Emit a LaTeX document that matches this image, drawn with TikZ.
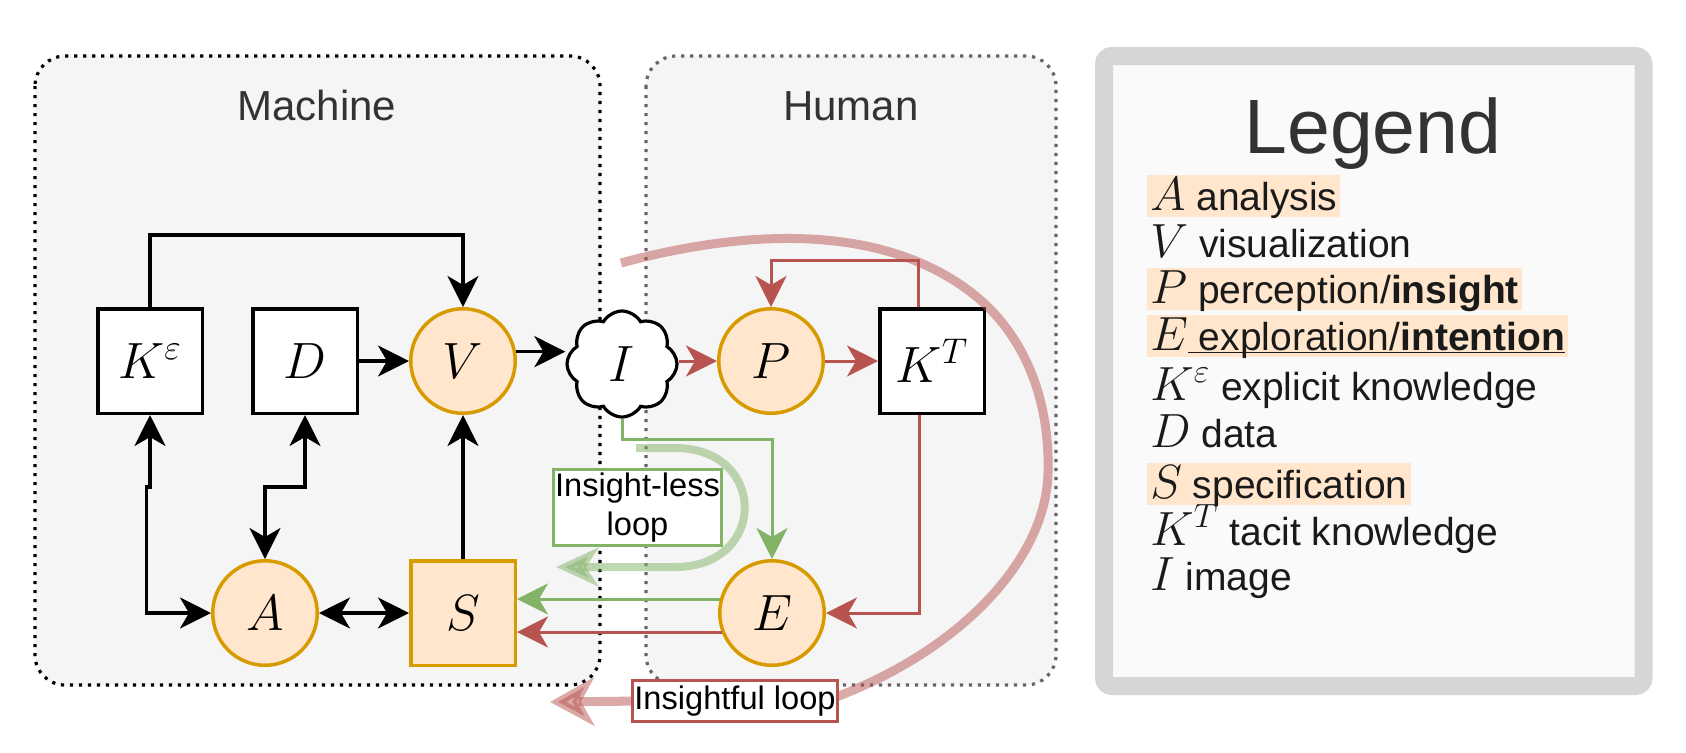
\IfFileExists{fix-cm.sty}{\RequirePackage{fix-cm}}{}
\documentclass[tikz,border=0pt]{standalone}
\usepackage{fontspec}
\setmainfont{Liberation Sans}
\usetikzlibrary{arrows.meta,shapes.symbols,calc}
\definecolor{orfill}{HTML}{FFE6CC}
\definecolor{orline}{HTML}{D79B00}
\definecolor{greenline}{HTML}{82B366}
\definecolor{redline}{HTML}{B85450}
\definecolor{boxfill}{HTML}{F5F5F5}
\definecolor{humanline}{HTML}{666666}
\definecolor{titletext}{HTML}{333333}
\definecolor{legtext}{HTML}{1A1A1A}
\definecolor{legline}{HTML}{D6D6D6}
\definecolor{legfill}{HTML}{FAFAFA}
\newcommand\mynodefont{\fontsize{25.5}{30}\selectfont}
\newcommand\mylegfont{\fontsize{19.5}{23}\selectfont}
\newcommand\mylm[1]{{\fontsize{24}{28}\selectfont$#1$}}
\begin{document}
\begin{tikzpicture}[x=0.5pt,y=-0.5pt,
  region/.style={line width=1.6pt, dash pattern=on 1.6pt off 2.9pt, rounded corners=15pt, fill=boxfill},
  sqbox/.style={draw, line width=1.75pt, fill=white, minimum size=52.25pt, inner sep=0pt, font=\mynodefont},
  circ/.style={circle, draw=orline, fill=orfill, line width=1.75pt, minimum size=52.25pt, inner sep=0pt, font=\mynodefont},
  tipb/.tip={Stealth[length=15.5pt,width=15.5pt,inset=4.5pt]},
  arr/.style={line width=1.6pt, -tipb},
  darr/.style={line width=1.6pt, tipb-tipb},
  rarr/.style={line width=1.5pt, draw=redline, -tipb},
  garr/.style={line width=1.5pt, draw=greenline, -tipb},
  heading/.style={anchor=base, text=titletext},
  leg/.style={anchor=base west, inner xsep=1.5pt, inner ysep=0pt, text height=17.5pt, text depth=3.5pt, font=\mylegfont, text=legtext},
  hl/.style={leg, fill=orfill},
  looplabel/.style={fill=white, line width=1.5pt, inner sep=1pt, align=center, font=\fontsize{16.3}{19.5}\selectfont}
]
\useasboundingbox (0,0) rectangle (1686,752);
\fill[white] (0,0) rectangle (1686,752);

% regions
\draw[region, draw=black] (35,56) rectangle (600,685);
\draw[region, draw=humanline] (646,56) rectangle (1056,685);
\node[heading, font=\fontsize{21}{25}\selectfont] (mach) at (317,120) {Machine};
\node[heading, font=\fontsize{21}{25}\selectfont] (hum) at (851,120) {Human};

% legend
\draw[line width=9pt, draw=legline, fill=legfill, rounded corners=4pt] (1104,56) rectangle (1643.5,686);
\node[heading, font=\fontsize{38.5}{46}\selectfont] (legtitle) at (1373,153) {Legend};
\node[hl]  (l1) at (1147,210) {\mylm{A} analysis};
\node[leg] (l2) at (1147,257) {\mylm{V} visualization};
\node[hl]  (l3) at (1147,303) {\mylm{P} perception/\textbf{insight}};
\node[hl]  (l4) at (1147,350) {\mylm{E}\underline{\smash{\ exploration/\textbf{intention}}}};
\node[leg] (l5) at (1147,400) {\mylm{K^{\varepsilon}} explicit knowledge};
\node[leg] (l6) at (1147,447) {\mylm{D} data};
\node[hl]  (l7) at (1147,498) {\mylm{S} specification};
\node[leg] (l8) at (1147,545) {\mylm{K^{T}} tacit knowledge};
\node[leg] (l9) at (1147,590) {\mylm{I} image};

% nodes
\node[sqbox] (Ke) at (150,361) {$K^{\varepsilon}$};
\node[sqbox] (D)  at (305,361) {$D$};
\node[circ]  (V)  at (463,361) {$V$};
\node[cloud, cloud puffs=8, cloud puff arc=120, aspect=1.05, draw, line width=1.6pt, fill=white,
      minimum width=55pt, minimum height=53pt, inner sep=0pt, font=\mynodefont] (I) at (622,364) {$I$};
\node[circ]  (P)  at (771,361) {$P$};
\node[sqbox] (KT) at (932,361) {$K^{T}$};
\node[circ]  (A)  at (265,613) {$A$};
\node[sqbox, draw=orline, fill=orfill] (S) at (463,613) {$S$};
\node[circ]  (E)  at (772,613) {$E$};

% black connectors
\draw[arr] (Ke.north) -- ++(0,-72) -| (V.north);
\draw[arr] (D.east) -- (V.west);
\draw[arr] (V.10) -- (I.west |- V.10);
\draw[arr] (S.north) -- (V.south);
\draw[darr] (A.east) -- (S.west);
\draw[darr] (Ke.south) -- ++(0,72) -- ++(-3.5,0) |- (A.west);
\draw[darr] (D.south) -- ++(0,72) -| (A.north);

% red connectors
\draw[rarr] (I.east |- P.west) -- (P.west);
\draw[rarr] (P.east) -- (KT.west);
\draw[rarr] ($(KT.north)+(-14,0)$) -- ++(0,-47) -| (P.north);
\draw[rarr] ($(KT.south)+(-13,0)$) |- (E.east);
\draw[rarr] ($(E.center)+(-50.5,19)$) -- ($(S.east)+(0,19)$);

% green connectors
\draw[garr] ($(E.center)+(-52,-14)$) -- ($(S.east)+(0,-14)$);
\draw[garr] (I.south) -- ++(0,21) -| (E.north);

% loops
\coordinate (gs) at (636,448);
\coordinate (ge) at (556,567);
\draw[draw=greenline, line width=4pt, opacity=0.5, -{Stealth[length=21pt,width=19pt,inset=6pt]}]
  (gs) -- (675,448) .. controls (768,448) and (768,567) .. (675,567) -- (ge);
\coordinate (rs) at (621,263);
\coordinate (re) at (550,702);
\draw[draw=redline, line width=4.5pt, opacity=0.5, -{Stealth[length=22pt,width=24pt,inset=6.5pt]}]
  (rs) .. controls (750,228) and (880,225) .. (968,290)
  .. controls (1025,332) and (1050,400) .. (1048,473)
  .. controls (1046,560) and (960,650) .. (836,697)
  -- (640,701) -- (re);

% loop labels
\node[looplabel, draw=greenline, minimum width=82pt, minimum height=38pt] (L1) at (637.5,507.5) {Insight-less\\loop};
\node[looplabel, draw=redline, minimum width=99.5pt, minimum height=20.5pt] (L2) at (735,701) {Insightful loop};
\end{tikzpicture}
\end{document}
